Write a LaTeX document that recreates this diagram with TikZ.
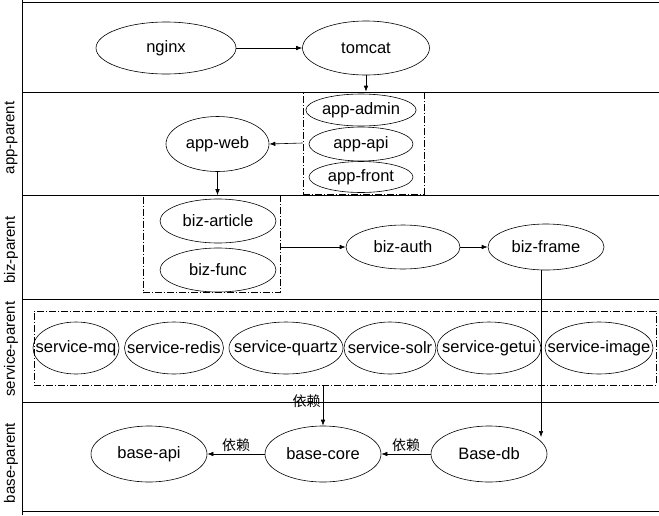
\documentclass[tikz,border=0pt]{standalone}
\usepackage{fontspec}
\setmainfont{Liberation Sans}
\newfontfamily\cjk{Noto Sans CJK SC}
\usetikzlibrary{shapes.geometric,arrows.meta}
\newcommand\tight[1]{\makebox[0pt]{#1}}

\begin{document}
\begin{tikzpicture}[x=1pt, y=-1pt, line width=0.6pt,
		module/.style={draw, ellipse, inner sep=0pt, font=\fontsize{16.5}{19}\selectfont},
		group/.style={draw, inner sep=0pt, dash pattern=on 7pt off 2pt on 1pt off 2pt},
		lane/.style={rotate=90, inner sep=0pt, font=\fontsize{15}{18}\selectfont},
		dep/.style={inner sep=2pt, font=\cjk\fontsize{14}{17}\selectfont},
		arr/.style={-{Latex[length=6pt,width=4.5pt]}}]
		%%%%% START %%%%%
		
		\useasboundingbox (0, 0) rectangle (659, 515);
		
		% lanes
		\draw[line width=0.9pt] (22, 0) -- (22, 515);
		\draw[line width=0.9pt] (22, 2) -- (659, 2);
		\draw[line width=0.9pt] (22, 92) -- (659, 92);
		\draw[line width=0.9pt] (22, 195) -- (659, 195);
		\draw[line width=0.9pt] (22, 299) -- (659, 299);
		\draw[line width=0.9pt] (22, 402) -- (659, 402);
		\draw[line width=0.9pt] (22, 511) -- (659, 511);
		
		\node[lane] (appLane) at (11, 138) {app-parent};
		\node[lane] (bizLane) at (11, 250) {biz-parent};
		\node[lane] (serviceLane) at (11, 349) {service-parent};
		\node[lane] (baseLane) at (11, 463) {base-parent};
		
		% top
		\node[module, minimum width=140pt, minimum height=52pt] (nginx) at (166, 48) {nginx};
		\node[module, minimum width=127pt, minimum height=54pt] (tomcat) at (366, 48) {tomcat};
		
		% app
		\node[group, minimum width=121pt, minimum height=102pt] (appBox) at (363.5, 143) {};
		\node[module, minimum width=104pt, minimum height=32pt] (appAdmin) at (361, 110) {app-admin};
		\node[module, minimum width=104pt, minimum height=34pt] (appApi) at (361, 144) {app-api};
		\node[module, minimum width=104pt, minimum height=31pt] (appFront) at (361, 177) {app-front};
		\node[module, minimum width=103pt, minimum height=55pt] (appWeb) at (217.5, 144) {app-web};
		
		% biz
		\node[group, minimum width=137pt, minimum height=97pt] (bizBox) at (211.5, 244) {};
		\node[module, minimum width=116pt, minimum height=44pt] (bizArticle) at (218, 221) {biz-article};
		\node[module, minimum width=116pt, minimum height=44pt] (bizFunc) at (218, 270) {biz-func};
		\node[module, minimum width=114pt, minimum height=44pt] (bizAuth) at (403, 247) {biz-auth};
		\node[module, minimum width=116pt, minimum height=46pt] (bizFrame) at (546, 247) {biz-frame};
		
		% service
		\node[group, minimum width=622pt, minimum height=74pt] (serviceBox) at (345, 348) {};
		\node[module, minimum width=86pt, minimum height=52pt] (serviceMq) at (76, 348) {\tight{service-mq}};
		\node[module, minimum width=99pt, minimum height=52pt] (serviceRedis) at (174, 348) {\tight{service-redis}};
		\node[module, minimum width=114pt, minimum height=52pt] (serviceQuartz) at (286, 348) {\tight{service-quartz}};
		\node[module, minimum width=92pt, minimum height=52pt] (serviceSolr) at (390, 348) {\tight{service-solr}};
		\node[module, minimum width=104pt, minimum height=52pt] (serviceGetui) at (489, 348) {\tight{service-getui}};
		\node[module, minimum width=108pt, minimum height=52pt] (serviceImage) at (599, 348) {\tight{service-image}};
		
		% base
		\node[module, minimum width=116pt, minimum height=56pt] (baseApi) at (149, 454) {base-api};
		\node[module, minimum width=116pt, minimum height=56pt] (baseCore) at (323, 454) {base-core};
		\node[module, minimum width=116pt, minimum height=56pt] (baseDb) at (489, 454) {Base-db};
		
		% arrows
		\draw[arr] (nginx) -- (tomcat);
		\draw[arr] (tomcat.south) -- (tomcat.south |- appBox.north);
		\draw[arr] (appBox.west) -- (appWeb.east);
		\draw[arr] (appWeb.south) -- (appWeb.south |- bizBox.north);
		\draw[arr] (bizBox.east |- bizAuth.west) -- (bizAuth.west);
		\draw[arr] (bizAuth) -- (bizFrame);
		\draw[arr] ([xshift=-5pt]bizFrame.south) -- ([xshift=-5pt]bizFrame.south |- baseDb.20);
		\draw[arr] (serviceBox.south -| baseCore.north) -- node[dep, left, pos=0.4] (depService) {依赖} (baseCore.north);
		\draw[arr] (baseCore) -- node[dep, above] (depCore) {依赖} (baseApi);
		\draw[arr] (baseDb) -- node[dep, above] (depDb) {依赖} (baseCore);
		
		%%%%% END %%%%%
	\end{tikzpicture}
\end{document}
